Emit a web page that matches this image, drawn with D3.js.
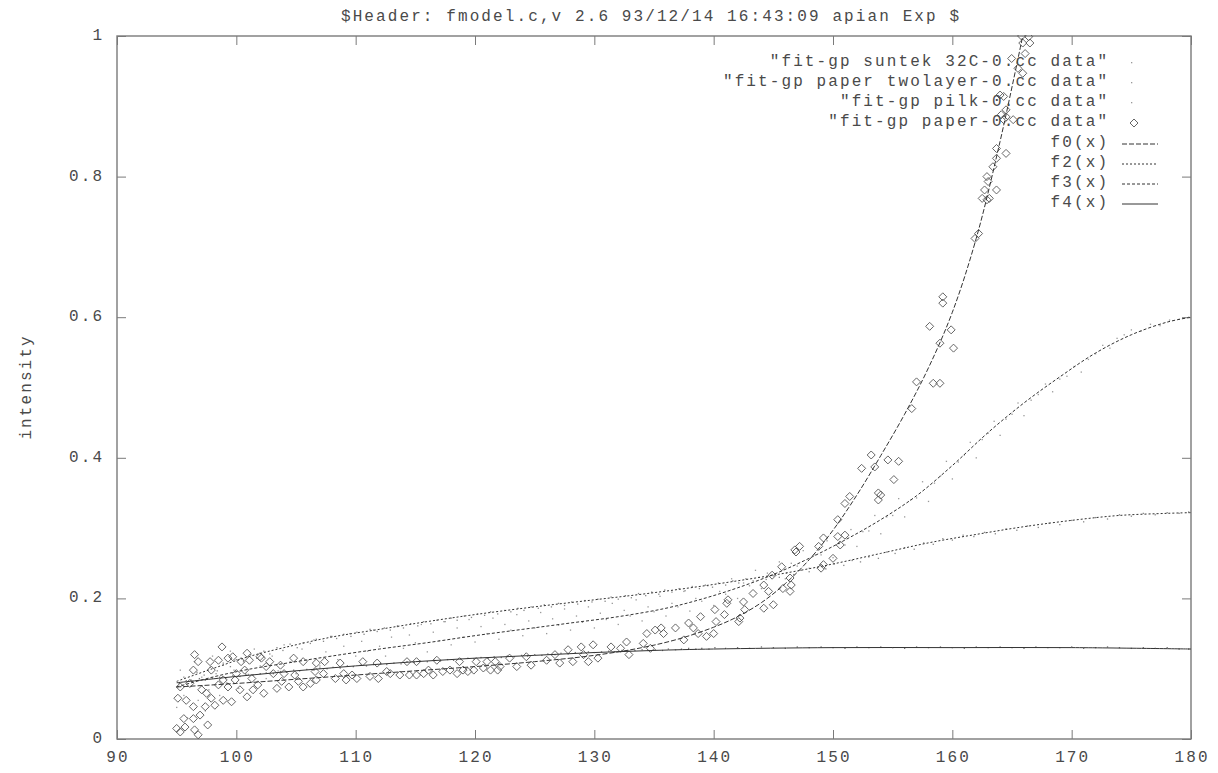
<!DOCTYPE html>
<html><head><meta charset="utf-8">
<script src="https://cdn.jsdelivr.net/npm/d3@7"></script>
<style>html,body{margin:0;padding:0;background:#fff;}svg{display:block;}</style>
</head><body>
<svg id="c" width="1218" height="773"></svg>
<script>
// ---------- data ----------
const titleText = "$Header: fmodel.c,v 2.6 93/12/14 16:43:09 apian Exp $";
const yLabel = "intensity";
const xTicks = [90,100,110,120,130,140,150,160,170,180];
const yTicks = [0,0.2,0.4,0.6,0.8,1];
const yTickLabels = ["0","0.2","0.4","0.6","0.8","1"];
const seriesNames = ['"fit-gp suntek 32C-0.cc data"','"fit-gp paper twolayer-0.cc data"','"fit-gp pilk-0.cc data"','"fit-gp paper-0.cc data"'];
const fitNames = ["f0(x)","f2(x)","f3(x)","f4(x)"];

// suntek dots (plateau near 0.13)
const suntek = [[95.2,.079],[95.8,.083],[96.3,.082],[96.9,.086],[97.4,.084],[98.0,.087],[98.6,.088],[99.1,.086],[99.7,.090],[100.3,.089],[100.8,.092],[101.4,.091],[102.0,.093],[102.5,.094],[103.1,.093],[103.7,.096],[104.2,.095],[104.8,.098],[105.3,.097],[105.9,.099],[106.5,.098],[107.0,.101],[107.6,.100],[108.1,.102],[108.7,.101],[109.3,.104],[109.8,.103],[110.4,.105],[110.9,.104],[111.5,.106],[112.1,.107],[112.6,.106],[113.2,.108],[113.8,.107],[114.3,.110],[114.9,.109],[115.4,.111],[116.0,.110],[116.6,.112],[117.1,.111],[117.7,.113],[118.2,.112],[118.8,.114],[119.4,.115],[119.9,.114],[120.5,.116],[121.1,.115],[121.6,.117],[122.2,.116],[122.7,.118],[123.3,.117],[123.9,.119],[124.4,.118],[125.0,.120],[125.6,.119],[126.1,.121],[126.7,.120],[127.2,.122],[127.8,.121],[128.4,.123],[128.9,.122],[129.5,.124],[130.0,.123],[130.6,.124],[131.2,.125],[131.7,.124],[132.3,.126],[132.8,.125],[133.4,.126],[134.0,.127],[134.5,.126],[135.1,.127],[135.7,.126],[136.2,.128],[136.8,.127],[137.3,.128],[137.9,.129],[138.5,.128],[139.0,.129],[139.6,.128],[140.1,.130],[141.0,.129],[142.0,.130],[143.0,.129],[144.0,.131],[145.0,.130],[146.0,.129],[147.0,.131],[148.0,.130],[149.0,.131],[150.0,.130],[151.0,.129],[152.0,.131],[153.0,.130],[154.0,.131],[155.0,.130],[156.0,.129],[157.0,.131],[158.0,.130],[159.0,.131],[160.0,.130],[161.0,.129],[162.0,.131],[163.0,.130],[164.0,.131],[165.0,.130],[166.0,.129],[167.0,.131],[168.0,.130],[169.0,.130],[170.0,.131],[171.0,.129],[172.0,.130],[173.0,.131],[174.0,.130],[175.0,.129],[176.0,.130],[177.0,.129],[178.0,.130],[179.0,.128],[179.8,.128]];

// twolayer dots (rising to 0.6, wide scatter)
const twolayer = [[95.0,.045],[95.3,.098],[95.6,.062],[95.9,.030],[96.2,.075],[96.5,.110],[96.8,.055],[97.1,.088],[97.4,.040],[97.7,.070],[98.0,.118],[98.3,.093],[98.6,.062],[98.9,.105],[99.2,.080],[99.5,.125],[99.8,.098],[100.2,.072],[100.6,.112],[101.0,.092],[101.5,.128],[102.0,.104],[102.5,.086],[103.0,.118],[103.5,.097],[104.0,.134],[104.5,.110],[105.0,.093],[105.5,.128],[106.0,.112],[106.5,.141],[107.0,.104],[107.5,.124],[108.0,.146],[108.5,.113],[109.0,.132],[109.5,.150],[110.0,.118],[110.5,.139],[111.0,.125],[111.5,.155],[112.0,.132],[112.5,.118],[113.0,.145],[113.5,.160],[114.0,.129],[114.5,.148],[115.0,.137],[115.5,.163],[116.0,.124],[116.5,.152],[117.0,.140],[117.5,.167],[118.0,.134],[118.5,.158],[119.0,.145],[119.5,.170],[120.0,.138],[120.5,.160],[121.0,.150],[121.5,.172],[122.0,.142],[122.5,.163],[123.0,.155],[123.5,.177],[124.0,.147],[124.5,.168],[125.0,.158],[125.5,.180],[126.0,.150],[126.5,.171],[127.0,.162],[127.5,.185],[128.0,.155],[128.5,.175],[129.0,.166],[129.5,.188],[130.0,.158],[130.5,.179],[131.0,.170],[131.5,.193],[132.0,.163],[132.5,.183],[133.0,.175],[133.5,.198],[134.0,.168],[134.5,.188],[135.0,.181],[135.5,.203],[136.0,.175],[136.5,.193],[137.0,.188],[137.5,.210],[138.0,.182],[138.5,.200],[139.0,.196],[139.5,.218],[140.0,.190],[140.5,.210],[141.0,.206],[141.5,.228],[142.0,.200],[142.5,.222],[143.0,.218],[143.5,.240],[144.0,.214],[144.5,.236],[145.0,.232],[145.5,.252],[146.0,.228],[146.5,.250],[147.0,.246],[147.5,.268],[148.0,.243],[148.5,.262],[149.0,.262],[149.5,.282],[150.0,.258],[150.5,.278],[151.0,.276],[151.5,.298],[152.0,.274],[152.5,.295],[153.0,.296],[153.5,.318],[154.0,.292],[154.5,.316],[155.0,.318],[155.5,.342],[156.0,.316],[156.5,.340],[157.0,.343],[157.5,.366],[158.0,.338],[158.5,.364],[159.0,.374],[159.5,.395],[160.0,.370],[160.5,.394],[161.0,.404],[161.5,.422],[162.0,.400],[162.5,.426],[163.0,.435],[163.5,.452],[164.0,.432],[164.5,.455],[165.0,.462],[165.5,.478],[166.0,.460],[166.6,.482],[167.2,.490],[167.8,.505],[168.4,.494],[169.0,.512],[169.6,.516],[170.2,.530],[170.8,.522],[171.4,.540],[172.0,.548],[172.6,.560],[173.2,.556],[173.8,.570],[174.4,.575],[175.0,.582],[175.8,.580],[176.6,.590],[177.4,.588],[178.2,.596],[179.0,.597],[179.8,.600]];

// pilk dots (rising to 0.32)
const pilk = [[95.1,.075],[95.6,.088],[96.2,.084],[96.7,.095],[97.3,.091],[97.8,.102],[98.4,.097],[98.9,.108],[99.5,.103],[100.0,.113],[100.6,.110],[101.2,.120],[101.7,.115],[102.3,.125],[102.8,.121],[103.4,.130],[103.9,.126],[104.5,.135],[105.1,.130],[105.6,.137],[106.2,.136],[106.7,.142],[107.3,.139],[107.9,.146],[108.4,.143],[109.0,.149],[109.6,.146],[110.1,.152],[110.7,.149],[111.2,.156],[111.8,.153],[112.4,.158],[112.9,.155],[113.5,.161],[114.0,.158],[114.6,.164],[115.2,.161],[115.7,.167],[116.3,.164],[116.8,.169],[117.4,.167],[118.0,.172],[118.5,.169],[119.1,.175],[119.7,.173],[120.2,.178],[120.8,.176],[121.3,.181],[121.9,.178],[122.5,.183],[123.0,.181],[123.6,.186],[124.1,.183],[124.7,.188],[125.3,.186],[125.8,.191],[126.4,.188],[127.0,.193],[127.5,.190],[128.1,.195],[128.6,.192],[129.2,.197],[129.8,.195],[130.3,.199],[130.9,.196],[131.4,.202],[132.0,.199],[132.6,.204],[133.1,.201],[133.7,.207],[134.3,.204],[134.8,.209],[135.4,.206],[135.9,.212],[136.5,.209],[137.1,.214],[137.6,.211],[138.2,.217],[138.8,.214],[139.3,.219],[139.9,.216],[140.4,.222],[141.0,.219],[141.6,.225],[142.1,.222],[142.7,.228],[143.3,.225],[143.8,.230],[144.4,.227],[144.9,.233],[145.5,.230],[146.1,.236],[146.7,.234],[147.3,.240],[148.0,.238],[148.7,.244],[149.4,.242],[150.1,.249],[150.9,.247],[151.6,.254],[152.3,.252],[153.0,.259],[153.8,.257],[154.5,.266],[155.2,.264],[156.0,.272],[156.8,.270],[157.6,.279],[158.4,.277],[159.2,.285],[160.0,.283],[160.9,.290],[161.8,.288],[162.7,.294],[163.6,.292],[164.5,.299],[165.4,.297],[166.3,.303],[167.2,.301],[168.1,.307],[169.0,.305],[170.0,.311],[171.0,.309],[172.0,.315],[173.0,.313],[174.0,.319],[175.0,.317],[176.0,.321],[177.0,.319],[178.0,.322],[179.0,.321],[179.8,.323]];

// paper diamonds
const paper = [[95.0,.015],[95.3,.010],[95.7,.017],[95.6,.029],[96.5,.013],[96.8,.006],[96.4,.029],[96.96,.034],[97.6,.020],[95.1,.058],[95.8,.055],[96.4,.046],[97.4,.046],[97.9,.058],[98.2,.048],[98.9,.055],[99.6,.053],[96.5,.120],[96.8,.110],[96.4,.098],[97.8,.110],[97.9,.098],[98.5,.112],[98.8,.131],[99.3,.115],[99.7,.117],[100.0,.093],[100.9,.122],[100.4,.110],[101.1,.112],[101.98,.117],[100.7,.098],[98.9,.084],[98.5,.077],[99.3,.074],[99.9,.084],[100.3,.070],[100.9,.060],[101.4,.070],[101.8,.077],[102.3,.065],[101.3,.086],[102.5,.103],[103.1,.093],[103.4,.072],[103.8,.082],[104.4,.074],[104.0,.093],[104.9,.091],[104.8,.115],[105.6,.110],[105.2,.082],[105.6,.074],[106.2,.079],[106.7,.084],[106.7,.108],[107.4,.110],[106.6,.096],[107.3,.093],[108.3,.086],[108.7,.108],[109.0,.093],[109.2,.084],[109.7,.091],[110.1,.086],[110.6,.110],[111.2,.089],[111.8,.108],[111.9,.086],[112.6,.096],[112.9,.093],[113.7,.091],[114.3,.110],[114.5,.091],[115.1,.110],[115.1,.091],[115.7,.093],[116.1,.098],[116.5,.091],[116.8,.112],[117.3,.096],[117.9,.098],[118.5,.093],[119.0,.098],[118.7,.110],[119.4,.096],[119.9,.098],[120.1,.110],[120.7,.101],[121.3,.098],[121.7,.110],[121.9,.098],[103.7,.105],[102.8,.110],[102.1,.115],[95.3,.074],[96.1,.079],[97.1,.070],[97.5,.065],
[121.0,.110],[122.1,.103],[122.9,.115],[123.5,.103],[124.3,.117],[124.7,.105],[126.0,.112],[126.7,.120],[127.1,.108],[127.8,.127],[128.2,.110],[128.9,.131],[129.1,.120],[129.9,.134],[129.5,.110],[130.3,.115],[131.4,.131],[132.2,.129],[132.7,.138],[132.9,.120],[134.1,.136],[134.4,.150],[134.7,.129],[135.1,.155],[135.6,.158],[135.8,.150],[136.8,.158],[137.5,.141],[137.9,.165],[138.3,.158],[138.7,.150],[138.9,.174],[139.4,.146],[140.0,.150],[140.2,.167],[140.1,.184],[140.9,.177],[141.1,.193],[141.2,.198],[142.1,.167],[142.2,.172],[142.5,.195],[142.6,.184],[143.3,.207],[144.2,.219],[144.2,.186],[145.0,.191],[144.6,.210],[144.9,.233],[145.8,.214],[146.4,.210],[146.5,.219],[146.4,.229],[145.7,.245],[146.8,.269],[147.2,.274],[146.9,.266],[149.0,.243],[149.2,.248],[150.0,.257],[148.8,.274],[149.2,.286],[150.4,.288],[150.6,.276],[151.0,.290],[150.4,.312],[151.0,.335],[151.4,.345],[152.4,.385],[153.2,.404],[153.5,.387],[153.8,.340],[153.8,.350],
[154.6,.397],[155.5,.395],[155.1,.369],[154.0,.347],[156.6,.470],[157.0,.508],[158.4,.506],[158.96,.506],[158.1,.587],[158.96,.563],[159.9,.582],[160.1,.556],[159.2,.629],[159.2,.620],
[161.9,.712],[162.2,.719],[162.9,.767],[162.5,.769],[162.7,.781],[163.7,.781],[163.1,.769],[163.0,.793],[162.9,.800],[163.4,.814],[163.7,.826],[164.5,.833],[163.7,.840],[164.3,.881],[164.1,.888],[164.5,.885],[165.1,.881],[164.0,.916],[164.3,.914],[164.5,.895],[165.9,.947],[164.97,.968],[166.1,.975],[165.9,.990],[165.8,1.0],[166.4,.999],[166.5,.990],[165.5,.954]];

// fitted curves
const f0 = [[95,.074],[100,.079],[105,.085],[110,.091],[115,.097],[120,.103],[125,.110],[130,.119],[134,.130],[137,.142],[140,.159],[142,.174],[144,.194],[146,.221],[148,.255],[150,.297],[152,.347],[154,.403],[156,.462],[158,.528],[160,.607],[162,.712],[164,.850],[165.9,1.0]];
const f2 = [[95,.082],[98,.100],[101,.117],[104,.13],[108,.145],[112,.156],[116,.167],[120,.177],[125,.188],[130,.198],[134,.206],[138,.215],[142,.225],[146,.236],[150,.249],[154,.264],[158,.279],[162,.291],[166,.302],[170,.311],[174,.318],[178,.321],[180,.322]];
const f3 = [[95,.074],[98,.088],[101,.099],[105,.110],[108,.118],[112,.128],[116,.137],[120,.147],[124,.156],[128,.165],[132,.174],[136,.186],[139,.199],[142,.215],[145,.234],[148,.257],[151,.283],[154,.312],[157,.346],[160,.389],[163,.436],[166,.478],[169,.515],[172,.549],[175,.575],[178,.593],[180,.600]];
const f4 = [[95,.080],[100,.089],[105,.097],[110,.104],[115,.110],[120,.115],[125,.119],[130,.123],[135,.126],[140,.128],[150,.130],[160,.130],[170,.130],[180,.128]];

// ---------- drawing ----------
const L = 117, R = 1191, T = 36, B = 739;
const svg = d3.select("#c");
const x = d3.scaleLinear().domain([90,180]).range([L,R]);
const y = d3.scaleLinear().domain([0,1]).range([B,T]);
const FONT = "'Liberation Mono', 'DejaVu Sans Mono', monospace";
const FS = 16, LS = 2.1;
const textCol = "#4a4a4a", axisCol = "#7a7a7a";

function txt(g, s, px, py, anchor) {
  const shift = anchor === "end" ? LS : (anchor === "middle" ? LS/2 : 0);
  return g.append("text").attr("x", px + shift).attr("y", py)
    .attr("text-anchor", anchor).attr("dominant-baseline", "central")
    .attr("font-family", FONT).attr("font-size", FS).attr("letter-spacing", LS)
    .attr("fill", textCol).text(s);
}

svg.append("defs").append("clipPath").attr("id","clip")
  .append("rect").attr("x",L).attr("y",T-1).attr("width",R-L).attr("height",B-T+2);

// axes with inward ticks on all sides
const xAxisB = d3.axisBottom(x).tickValues(xTicks).tickSize(-9).tickFormat("");
const xAxisT = d3.axisTop(x).tickValues(xTicks).tickSize(-9).tickFormat("");
const yAxisL = d3.axisLeft(y).tickValues(yTicks).tickSize(-9).tickFormat("");
const yAxisR = d3.axisRight(y).tickValues(yTicks).tickSize(-9).tickFormat("");
const axG = svg.append("g");
axG.append("g").attr("transform",`translate(0,${B})`).call(xAxisB);
axG.append("g").attr("transform",`translate(0,${T})`).call(xAxisT);
axG.append("g").attr("transform",`translate(${L},0)`).call(yAxisL);
axG.append("g").attr("transform",`translate(${R},0)`).call(yAxisR);
axG.selectAll(".domain").remove();
axG.selectAll("line").attr("stroke", axisCol).attr("stroke-width",1);
axG.append("rect").attr("x",L).attr("y",T).attr("width",R-L).attr("height",B-T)
  .attr("fill","none").attr("stroke",axisCol).attr("stroke-width",1.4);

// tick labels
const labG = svg.append("g");
xTicks.forEach(v => txt(labG, String(v), x(v), 758, "middle"));
yTicks.forEach((v,i) => txt(labG, yTickLabels[i], 102, y(v), "end"));
txt(labG, titleText, 650, 17, "middle");
txt(labG, yLabel, 0, 0, "middle").attr("transform", `translate(27,${388}) rotate(-90)`).attr("x", LS/2);

const plot = svg.append("g").attr("clip-path","url(#clip)");

// dot series
const dotSets = [{d:suntek, c:"#777"},{d:twolayer, c:"#999"},{d:pilk, c:"#888"}];
dotSets.forEach(s => {
  plot.append("g").selectAll("rect").data(s.d).join("rect")
    .attr("x", d => x(d[0]) - 0.6).attr("y", d => y(d[1]) - 0.6)
    .attr("width", 1.3).attr("height", 1.3).attr("fill", s.c);
});

// diamonds
function diamondPath(cx, cy, r) { return `M${cx},${cy-r}L${cx+r},${cy}L${cx},${cy+r}L${cx-r},${cy}Z`; }
plot.append("g").selectAll("path").data(paper).join("path")
  .attr("d", d => diamondPath(x(d[0]), y(d[1]), 4))
  .attr("fill","none").attr("stroke","#555").attr("stroke-width",0.9);

// curves
const line = d3.line().x(d => x(d[0])).y(d => y(d[1])).curve(d3.curveCatmullRom.alpha(0.5));
const curves = [{d:f0, dash:"5,2"},{d:f2, dash:"2,2"},{d:f3, dash:"3,2"},{d:f4, dash:null}];
curves.forEach(c => {
  plot.append("path").attr("d", line(c.d)).attr("fill","none")
    .attr("stroke","#333").attr("stroke-width",1)
    .attr("stroke-dasharray", c.dash);
});

// legend
const legG = svg.append("g");
const rowY = [62,82,102,122,143,163,183,203];
seriesNames.forEach((n,i) => txt(legG, n, 1107, rowY[i], "end"));
fitNames.forEach((n,i) => txt(legG, n, 1107, rowY[4+i], "end"));
[0,1,2].forEach(i => legG.append("rect").attr("x",1131).attr("y",rowY[i]).attr("width",1.3).attr("height",1.3).attr("fill","#999"));
legG.append("path").attr("d", diamondPath(1134, rowY[3]+1, 4)).attr("fill","none").attr("stroke","#555").attr("stroke-width",0.9);
curves.forEach((c,i) => {
  legG.append("line").attr("x1",1122).attr("x2",1158).attr("y1",rowY[4+i]+1).attr("y2",rowY[4+i]+1)
    .attr("stroke","#333").attr("stroke-width",1).attr("stroke-dasharray", c.dash);
});
</script>
</body></html>
